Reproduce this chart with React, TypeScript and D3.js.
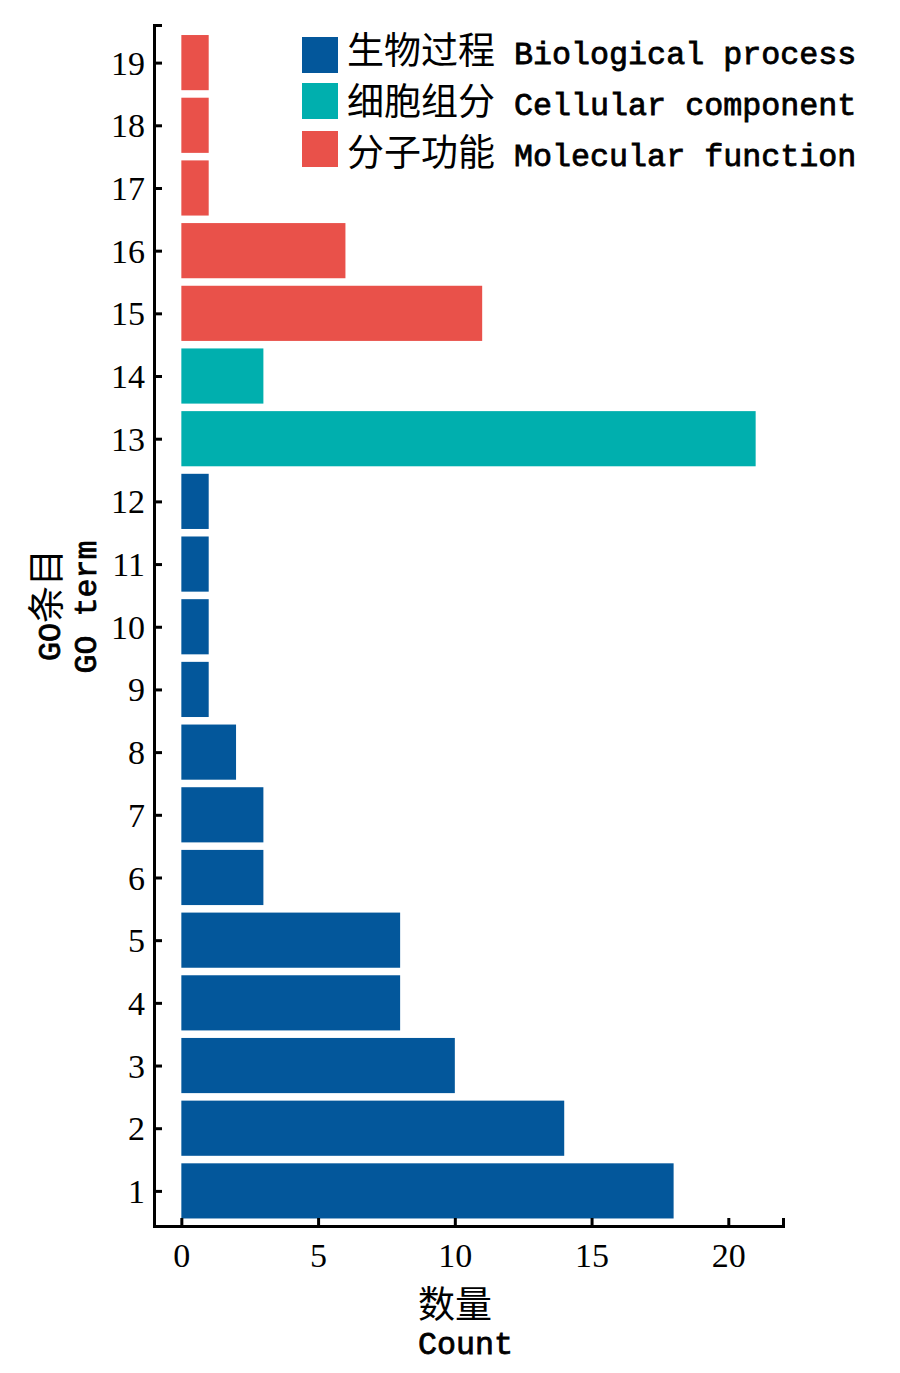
import React, { useEffect, useRef } from "react";
import * as d3 from "d3";

const terms = [1, 2, 3, 4, 5, 6, 7, 8, 9, 10, 11, 12, 13, 14, 15, 16, 17, 18, 19];
const counts = [18, 14, 10, 8, 8, 3, 3, 2, 1, 1, 1, 1, 21, 3, 11, 6, 1, 1, 1];
const termGroup = [
  "BP", "BP", "BP", "BP", "BP", "BP", "BP", "BP", "BP", "BP", "BP", "BP",
  "CC", "CC",
  "MF", "MF", "MF", "MF", "MF",
];
const groupKeys = ["BP", "CC", "MF"];
const groupZh = ["生物过程", "细胞组分", "分子功能"];
const groupEn = ["Biological process", "Cellular component", "Molecular function"];
const groupColors = ["#03579b", "#00afae", "#e9514a"];
const xTicks = [0, 5, 10, 15, 20];

const W = 900;
const H = 1373;
const CJK = "'Noto Sans CJK SC', sans-serif";
const MONO = "'Liberation Mono', 'DejaVu Sans Mono', monospace";
const SERIF = "'Liberation Serif', 'DejaVu Serif', serif";

export default function App() {
  const xAxisRef = useRef<SVGGElement>(null);
  const yAxisRef = useRef<SVGGElement>(null);

  const x = d3.scaleLinear().domain([-1, 22]).range([154, 783]);
  const y = d3.scaleLinear().domain([0.44, 19.6]).range([1226, 25]);
  const color = d3.scaleOrdinal<string, string>().domain(groupKeys).range(groupColors);
  const halfBand = 0.44;

  useEffect(() => {
    const gx = d3.select(xAxisRef.current);
    gx.selectAll("*").remove();
    gx.call(
      d3.axisBottom(x).tickValues(xTicks).tickSize(-8).tickSizeOuter(-8).tickPadding(17).tickFormat(d3.format("d"))
    );
    gx.select(".domain").attr("stroke", "#000").attr("stroke-width", 3);
    gx.selectAll(".tick line").attr("stroke", "#000").attr("stroke-width", 3);
    gx.selectAll(".tick text")
      .attr("font-family", SERIF)
      .attr("font-size", 34)
      .attr("fill", "#000")
      .attr("dy", "0.71em");

    const gy = d3.select(yAxisRef.current);
    gy.selectAll("*").remove();
    gy.call(
      d3.axisLeft(y).tickValues(terms).tickSize(-8).tickSizeOuter(-8).tickPadding(9).tickFormat(d3.format("d"))
    );
    gy.select(".domain").attr("stroke", "#000").attr("stroke-width", 3);
    gy.selectAll(".tick line").attr("stroke", "#000").attr("stroke-width", 3);
    gy.selectAll(".tick text")
      .attr("font-family", SERIF)
      .attr("font-size", 34)
      .attr("fill", "#000")
      .attr("dy", "0.34em");
  }, []);

  const monoStyle = { whiteSpace: "pre" as const };

  return (
    <svg
      width={W}
      height={H}
      viewBox={`0 0 ${W} ${H}`}
      style={{ position: "absolute", left: 0, top: 0, background: "#fff" }}
    >
      <rect x={0} y={0} width={W} height={H} fill="#fff" />
      <g>
        {terms.map((t, i) => (
          <rect
            key={t}
            x={x(0)}
            y={y(t + halfBand)}
            width={x(counts[i]) - x(0)}
            height={y(t - halfBand) - y(t + halfBand)}
            fill={color(termGroup[i])}
          />
        ))}
      </g>
      <g ref={xAxisRef} transform={`translate(0,${y(0.44)})`} />
      <g ref={yAxisRef} transform={`translate(${x(-1)},0)`} />

      {/* legend */}
      <g>
        {groupKeys.map((k, i) => {
          const top = [37, 83, 131][i];
          const base = [64, 115, 166][i];
          return (
            <g key={k}>
              <rect x={302} y={top} width={36} height={36} fill={color(k)} />
              <text x={347} y={base} fill="#000">
                <tspan fontFamily={CJK} fontSize={37}>{groupZh[i]}</tspan>
                <tspan fontFamily={MONO} fontSize={31.7} stroke="#000" strokeWidth={0.8} style={monoStyle}>
                  {" " + groupEn[i]}
                </tspan>
              </text>
            </g>
          );
        })}
      </g>

      {/* x title */}
      <text x={418} y={1318} fontFamily={CJK} fontSize={37} fill="#000">数量</text>
      <text x={418} y={1354} fontFamily={MONO} fontSize={31.7} stroke="#000" strokeWidth={0.8} fill="#000">Count</text>

      {/* y title */}
      <g transform="translate(60,605) rotate(-90)">
        <text x={0} y={0} textAnchor="middle" fill="#000">
          <tspan fontFamily={MONO} fontSize={31.7} stroke="#000" strokeWidth={0.8}>GO</tspan>
          <tspan fontFamily={CJK} fontSize={37}>条目</tspan>
        </text>
      </g>
      <g transform="translate(96,607) rotate(-90)">
        <text x={0} y={0} textAnchor="middle" fontFamily={MONO} fontSize={31.7} stroke="#000" strokeWidth={0.8} fill="#000" style={monoStyle}>
          GO term
        </text>
      </g>
    </svg>
  );
}
